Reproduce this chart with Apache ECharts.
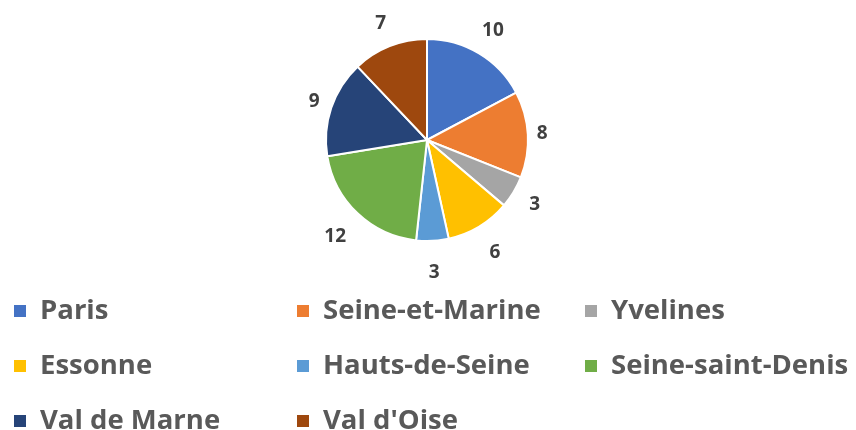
<!DOCTYPE html>
<html>
<head>
<meta charset="utf-8">
<script src="https://cdn.jsdelivr.net/npm/echarts@6/dist/echarts.min.js"></script>
<style>
  html, body { margin: 0; padding: 0; background: #fff; }
  #chart { width: 856px; height: 430px; }
</style>
</head>
<body>
<div id="chart"></div>
<script>
// departements and their counts
const names = ['Paris', 'Seine-et-Marine', 'Yvelines', 'Essonne', 'Hauts-de-Seine', 'Seine-saint-Denis', 'Val de Marne', "Val d'Oise"];
const values = [10, 8, 3, 6, 3, 12, 9, 7];
const colors = ['#4472C4', '#ED7D31', '#A5A5A5', '#FFC000', '#5B9BD5', '#70AD47', '#264478', '#9E480E'];

// legend laid out in 3 columns like the original
const col1 = [names[0], names[3], names[6]];
const col2 = [names[1], names[4], names[7]];
const col3 = [names[2], names[5]];

const cx = 427, cy = 140, r = 101;
const total = values.reduce((a, b) => a + b, 0);

let chart = echarts.init(document.getElementById('chart'));

function legendCol(data, left) {
    return {
        data: data,
        orient: 'vertical',
        left: left,
        top: 297,
        height: 150,
        padding: 0,
        icon: 'rect',
        itemWidth: 14,
        itemHeight: 14,
        itemGap: 27,
        selectedMode: false,
        textStyle: {
            fontFamily: 'Open Sans',
            fontWeight: 'bold',
            fontSize: 27.5,
            lineHeight: 27,
            color: '#595959',
            padding: [0, 0, 0, 8]
        }
    };
}

// place labels just outside the pie, centred, like the office chart does
function placeLabel(params) {
    let i = params.dataIndex;
    let before = 0;
    for (let k = 0; k < i; k++) before += values[k];
    let mid = (90 - (before + values[i] / 2) / total * 360) * Math.PI / 180;
    let c = Math.cos(mid), s = Math.sin(mid);
    let w = params.labelRect.width, h = params.labelRect.height;
    let d = r + 8 + Math.abs(c) * w / 2 + Math.abs(s) * (h / 2 + 6);
    if (s < 0) d += 8 * Math.abs(s);
    return {
        x: cx + d * c,
        y: cy - d * s,
        align: 'center',
        verticalAlign: 'middle'
    };
}

let option = {
    color: colors,
    animation: false,
    legend: [legendCol(col1, 12), legendCol(col2, 295), legendCol(col3, 583)],
    series: [
        {
            type: 'pie',
            center: [cx, cy],
            radius: r,
            startAngle: 90,
            data: names.map((n, i) => ({name: n, value: values[i]})),
            itemStyle: {
                borderColor: '#fff',
                borderWidth: 2
            },
            label: {
                show: true,
                position: 'outside',
                formatter: '{c}',
                fontFamily: 'Open Sans',
                fontWeight: 'bold',
                fontSize: 19,
                color: '#404040'
            },
            labelLine: {
                show: false
            },
            labelLayout: placeLabel
        }
    ]
};
chart.setOption(option);
</script>
</body>
</html>
